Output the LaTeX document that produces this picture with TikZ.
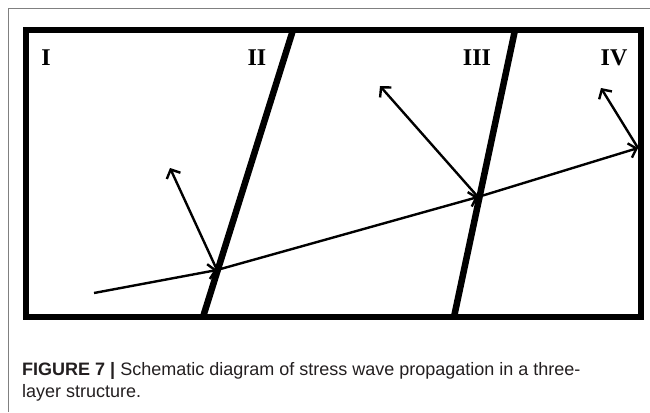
\documentclass[tikz,border=0pt]{standalone}
\usepackage{fontspec}
\setmainfont{Liberation Serif}
\newfontfamily\capfont{Liberation Sans}
\usetikzlibrary{arrows.meta}
\definecolor{FrameGray}{RGB}{128,128,128}
\definecolor{CapText}{RGB}{35,31,32}

\begin{document}
\begin{tikzpicture}[x=1pt, y=-1pt,
    wall/.style={line width=6pt},
    iface/.style={line width=6.5pt},
    wave/.style={-{Straight Barb[length=7pt,width=15pt]}, line width=2.4pt},
    zone/.style={font=\fontsize{24}{24}\selectfont\bfseries, inner sep=0pt},
    capt/.style={font=\capfont\fontsize{18}{22}\selectfont, text=CapText,
      anchor=base west, inner sep=0pt}
  ]
    \useasboundingbox (0,0) rectangle (650,412);
    \draw[FrameGray, line width=1pt] (650,9) -- (8,9) -- (8,412);

    % layers
    \draw[wall] (26,30) rectangle (641,317);
    \draw[iface] (293,30) -- (203,317);
    \draw[iface] (515,30) -- (454,317);

    \node[zone] (z1) at (46,58)  {I};
    \node[zone] (z2) at (257,58) {II};
    \node[zone] (z3) at (477,58) {III};
    \node[zone] (z4) at (614,58) {IV};

    % wave path
    \coordinate (src) at (94,293);
    \coordinate (p2)  at (217,270);
    \coordinate (p3)  at (478,197);
    \coordinate (p4)  at (638,148);
    \coordinate (r2)  at (170,168);
    \coordinate (r3)  at (380,86);
    \coordinate (r4)  at (601,88);

    \draw[wave] (src) -- (p2);
    \draw[wave] (p2) -- (p3);
    \draw[wave] (p3) -- (p4);
    \draw[wave] (p2) -- (r2);
    \draw[wave] (p3) -- (r3);
    \draw[wave] (p4) -- (r4);

    \node[capt] (cap1) at (22,375) {\textbf{FIGURE 7 |} Schematic diagram of stress wave propagation in a three-};
    \node[capt] (cap2) at (22,397) {layer structure.};
\end{tikzpicture}
\end{document}
